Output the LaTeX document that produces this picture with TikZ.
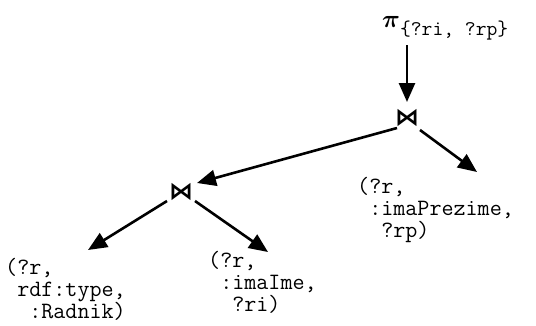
\documentclass[tikz,border=0pt]{standalone}
\usepackage{bm}
\usepackage{fontspec}
\newfontfamily\djv{DejaVu Sans}
\usetikzlibrary{arrows.meta,calc}
\begin{document}
\begin{tikzpicture}[x=1pt,y=-1pt,
 arr/.style={line width=2.6pt,-{Triangle[length=19pt,width=16pt]}},
 code/.style={font=\fontsize{23.4}{22.2}\ttfamily,align=left,anchor=north west,inner sep=0pt},
 joinop/.style={font=\fontsize{24}{24}\djv\bfseries,inner sep=0pt}]
\useasboundingbox (0,0) rectangle (536,325);
\node[anchor=base west,inner sep=0pt,font=\fontsize{38}{38}\selectfont] (proj) at (382,27)
  {$\bm{\pi}$\raisebox{-8pt}{\fontsize{21}{21}\ttfamily\{?ri, ?rp\}}};
\node[joinop] (j1) at (407,118) {⋈};
\node[joinop] (j2) at (181,192) {⋈};
\node[code] (t1) at (5,258) {(?r,\\\hphantom{x}rdf:type,\\\hphantom{xx}:Radnik)};
\node[code] (t2) at (208,251) {(?r,\\\hphantom{x}:imaIme,\\\hphantom{xx}?ri)};
\node[code] (t3) at (357,177) {(?r,\\\hphantom{x}:imaPrezime,\\\hphantom{xx}?rp)};
\draw[arr] ($(proj.base west)+(25,18)$) -- ($(j1)+(0,-16)$);
\draw[arr] ($(j1)+(-10,10)$) -- ($(j2)+(16,-9)$);
\draw[arr] ($(j1)+(13,12)$) -- ($(t3.north west)+(120,-5)$);
\draw[arr] ($(j2)+(-14,9)$) -- ($(t1.north west)+(83,-8)$);
\draw[arr] ($(j2)+(14,9)$) -- ($(t2.north west)+(60,1)$);
\end{tikzpicture}
\end{document}
